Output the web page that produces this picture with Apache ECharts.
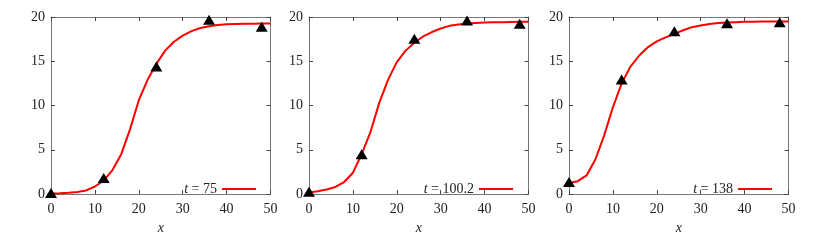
<!DOCTYPE html>
<html>
<head>
<meta charset="utf-8">
<script src="https://cdn.jsdelivr.net/npm/echarts@6/dist/echarts.min.js"></script>
<style>
  html, body { margin: 0; padding: 0; background: #fff; }
  #chart { width: 830px; height: 240px; }
</style>
</head>
<body>
<div id="chart"></div>
<script>
// curve sample positions
const curveX = [0, 2, 4, 6, 8, 10, 12, 14, 16, 18, 20, 22, 24, 26, 28, 30, 32, 34, 36, 38, 40, 42, 44, 46, 48, 50]
// fitted curves, one per panel
const curveT75 = [0.05, 0.08, 0.13, 0.22, 0.4, 0.85, 1.5, 2.7, 4.5, 7.3, 10.6, 12.9, 14.7, 16.2, 17.2, 17.9, 18.4, 18.75, 18.95, 19.1, 19.17, 19.21, 19.23, 19.25, 19.26, 19.26]
const curveT100 = [0.18, 0.3, 0.5, 0.8, 1.35, 2.4, 4.5, 7.0, 10.3, 12.9, 14.9, 16.2, 17.1, 17.8, 18.3, 18.7, 19.0, 19.15, 19.26, 19.32, 19.37, 19.4, 19.42, 19.44, 19.45, 19.45]
const curveT138 = [1.25, 1.45, 2.1, 3.9, 6.6, 9.8, 12.5, 14.4, 15.65, 16.6, 17.25, 17.7, 18.1, 18.5, 18.85, 19.05, 19.2, 19.32, 19.38, 19.42, 19.45, 19.47, 19.48, 19.49, 19.5, 19.5]
// measured points
const pointX = [0, 12, 24, 36, 48]
const pointsT75 = [0.1, 1.8, 14.4, 19.7, 18.9]
const pointsT100 = [0.25, 4.5, 17.55, 19.6, 19.25]
const pointsT138 = [1.35, 12.95, 18.4, 19.3, 19.4]
const tLabels = ['75', '100.2', '138']

const curves = [curveT75, curveT100, curveT138]
const points = [pointsT75, pointsT100, pointsT138]

const serif = '"Liberation Serif", "DejaVu Serif", serif'
const frameColor = '#777'
const gridLefts = [51, 309, 569]
const legendRights = [574, 317, 58]

let grid = [], xAxis = [], yAxis = [], series = [], legend = []

const zip = (xs, ys) => xs.map((x, i) => [x, ys[i]])

gridLefts.forEach((left, i) => {
  grid.push({ left: left, width: 219.5, top: 17, height: 182 })

  let tick = { show: true, inside: true, length: 4, lineStyle: { color: '#444' } }
  let line = { show: true, onZero: false, lineStyle: { color: frameColor, width: 1 } }
  let label = { color: '#222', fontFamily: serif, fontSize: 14 }

  // bottom (labelled) + top (mirror ticks)
  xAxis.push({
    gridIndex: i, type: 'value', position: 'bottom', min: 0, max: 50, interval: 10,
    axisLine: line, axisTick: tick, splitLine: { show: false },
    axisLabel: Object.assign({ margin: 8 }, label),
    name: 'x', nameLocation: 'middle', nameGap: 27,
    nameTextStyle: { fontFamily: serif, fontStyle: 'italic', fontSize: 14, color: '#222' }
  })
  xAxis.push({
    gridIndex: i, type: 'value', position: 'top', min: 0, max: 50, interval: 10,
    axisLine: line, axisTick: tick, splitLine: { show: false }, axisLabel: { show: false }
  })
  yAxis.push({
    gridIndex: i, type: 'value', position: 'left', min: 0, max: 20, interval: 5,
    axisLine: line, axisTick: tick, splitLine: { show: false },
    axisLabel: Object.assign({ margin: 6 }, label)
  })
  yAxis.push({
    gridIndex: i, type: 'value', position: 'right', min: 0, max: 20, interval: 5,
    axisLine: line, axisTick: tick, splitLine: { show: false }, axisLabel: { show: false }
  })

  let name = 't = ' + tLabels[i]
  series.push({
    name: name, type: 'line', xAxisIndex: i * 2, yAxisIndex: i * 2,
    data: zip(curveX, curves[i]), symbol: 'none', smooth: false,
    lineStyle: { color: '#ff0000', width: 2 }, itemStyle: { color: '#ff0000' },
    z: 2
  })
  series.push({
    type: 'scatter', xAxisIndex: i * 2, yAxisIndex: i * 2,
    data: zip(pointX, points[i]), symbol: 'triangle', symbolSize: [12, 10],
    itemStyle: { color: '#000', opacity: 1 }, z: 3, clip: false
  })

  legend.push({
    data: [name], right: legendRights[i], top: 182, align: 'right', padding: 0,
    icon: 'rect', itemWidth: 34, itemHeight: 2, itemGap: 4,
    formatter: () => '{i|t} = ' + tLabels[i],
    textStyle: {
      fontFamily: serif, fontSize: 14, color: '#222',
      rich: { i: { fontFamily: serif, fontStyle: 'italic', fontSize: 14, color: '#222' } }
    }
  })
})

const chart = echarts.init(document.getElementById('chart'))
chart.setOption({
  animation: false,
  backgroundColor: '#fff',
  grid: grid,
  xAxis: xAxis,
  yAxis: yAxis,
  legend: legend,
  series: series
})
</script>
</body>
</html>
